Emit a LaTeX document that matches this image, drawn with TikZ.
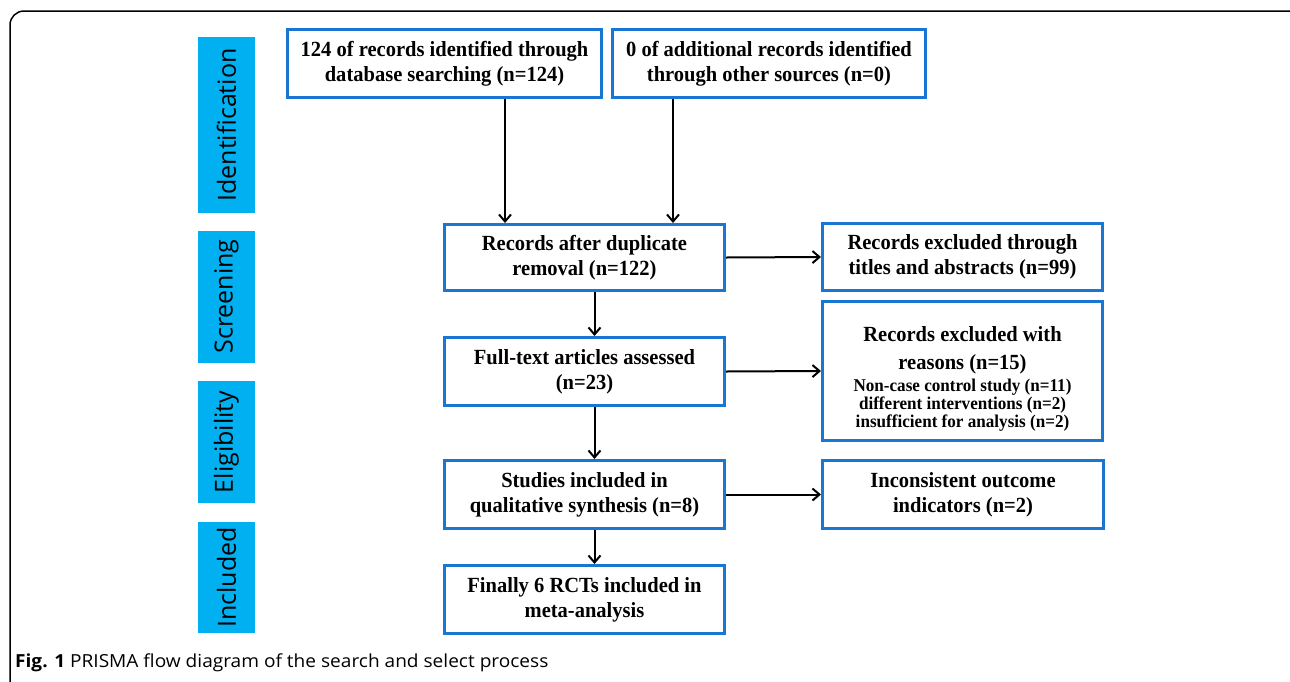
\documentclass[tikz,border=0pt]{standalone}
\usepackage{fontspec}
\usetikzlibrary{arrows.meta}
\setmainfont{Liberation Serif}
\newfontfamily\boxfont[FakeStretch=0.95]{Liberation Serif}
\newfontfamily\phasefont{Open Sans}
\newfontfamily\capfont[FakeStretch=1.06]{Open Sans}
\definecolor{boxblue}{RGB}{25,118,210}
\definecolor{phaseblue}{RGB}{0,176,240}
\newcommand{\smalltxt}{\fontsize{18}{25}\selectfont}

\begin{document}
\begin{tikzpicture}[x=1pt, y=-1pt]
	\tikzstyle{box} = [draw=boxblue, line width=3pt, align=center, minimum width=280pt, minimum height=68pt, inner sep=0pt, font=\boxfont\fontsize{21.6}{25}\selectfont\bfseries]
	\tikzstyle{phase} = [fill=phaseblue, rotate=90, minimum height=57pt, inner sep=0pt, font=\phasefont\fontsize{25}{30}\selectfont]
	\tikzstyle{flow} = [-{Straight Barb[length=7pt, width=12pt]}, line width=2pt]
	\useasboundingbox (0,0) rectangle (1290,681);
	\clip (0,0) rectangle (1290,681);
	\draw [line width=1.5pt, rounded corners=14pt] (10,11) rectangle (1310,700);
	% phase labels
	\node [phase, minimum width=176pt] (ident) at (226.5, 125) {Identification};
	\node [phase, minimum width=132pt] (screen) at (226.5, 296.5) {Screening};
	\node [phase, minimum width=122pt] (elig) at (226.5, 442) {Eligibility};
	\node [phase, minimum width=111pt] (incl) at (226.5, 577.5) {Included};
	% main flow
	\node [box, minimum width=314pt] (search) at (444.5, 63.5) {124 of records identified through\\database searching (n=124)};
	\node [box, minimum width=313pt] (other) at (769, 63.5) {0 of additional records identified\\through other sources (n=0)};
	\node [box, minimum height=66pt] (dedup) at (584.5, 257.5) {Records after duplicate\\removal (n=122)};
	\node [box] (fulltext) at (584.5, 371.5) {Full-text articles assessed\\(n=23)};
	\node [box] (quali) at (584.5, 494.5) {Studies included in\\qualitative synthesis (n=8)};
	\node [box] (meta) at (584.5, 599.5) {Finally 6 RCTs included in\\meta-analysis};
	% exclusions
	\node [box, minimum height=67pt] (excltitle) at (962.5, 257) {Records excluded through\\titles and abstracts (n=99)};
	\node [box, minimum height=139pt] (exclreason) at (962.5, 371) {\rule{0pt}{30pt}Records excluded with\\[3pt]reasons (n=15)\\[-3pt]\smalltxt Non-case control study (n=11)\\[-7pt]\smalltxt different interventions (n=2)\\[-7pt]\smalltxt insufficient for analysis (n=2)};
	\node [box, minimum width=281pt] (inconsist) at (963, 494.5) {Inconsistent outcome\\indicators (n=2)};
	\coordinate (join1) at (505, 0);
	\coordinate (join2) at (673, 0);
	\draw [flow] (search.south -| join1)--(dedup.north -| join1);
	\draw [flow] (other.south -| join2)--(dedup.north -| join2);
	\draw [flow] ([xshift=10pt]dedup.south)--([xshift=10pt]fulltext.north);
	\draw [flow] ([xshift=10pt]fulltext.south)--([xshift=10pt]quali.north);
	\draw [flow] ([xshift=10pt]quali.south)--([xshift=10pt]meta.north);
	\draw [flow] (dedup.east)--(excltitle.west);
	\draw [flow] (fulltext.east)--(exclreason.west);
	\draw [flow] (quali.east)--(inconsist.west);
	\node [anchor=base west, inner sep=0pt, font=\capfont\fontsize{18}{20}\selectfont] (caption) at (15, 667) {\textbf{Fig. 1} PRISMA flow diagram of the search and select process};
\end{tikzpicture}
\end{document}
